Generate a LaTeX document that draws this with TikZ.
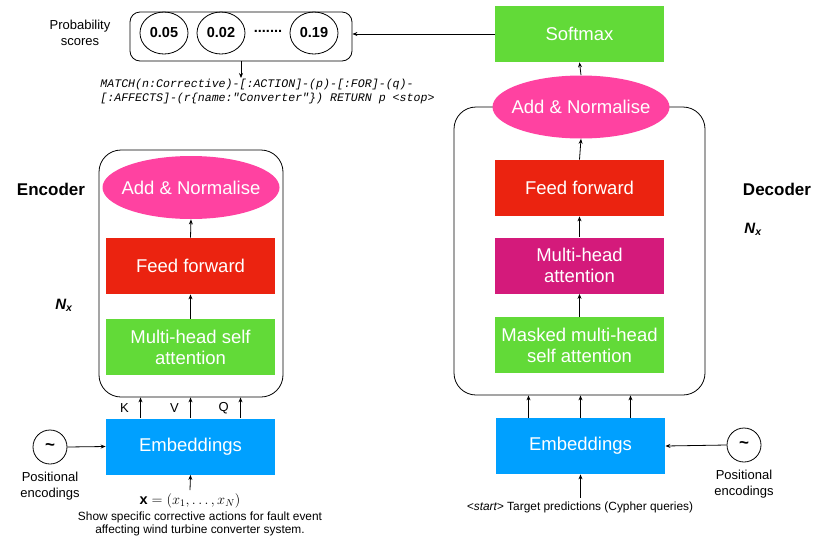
\documentclass[tikz,border=0pt]{standalone}
\usepackage{fontspec}
\setmainfont{Liberation Sans}
\setmonofont{Liberation Mono}
\usetikzlibrary{shapes.geometric,arrows.meta}

\begin{document}
\begin{tikzpicture}[x=1pt,y=-1pt,font=\fontsize{13}{16}\selectfont,line width=0.8pt,
  >={Stealth[length=5pt,width=4pt]},
  bloc/.style={minimum width=169,minimum height=56,inner sep=0,text=white,align=center,font=\fontsize{18.5}{21}\selectfont},
  norme/.style={ellipse,fill=rose,minimum width=177,minimum height=63,inner sep=0,text=white,font=\fontsize{18.5}{21}\selectfont},
  cadre/.style={draw,rounded corners=22,inner sep=0},
  proba/.style={ellipse,draw,minimum width=48,minimum height=42,inner sep=0,font=\bfseries\fontsize{14.5}{17}\selectfont},
  onde/.style={circle,draw,minimum size=34,inner sep=0,font=\bfseries\fontsize{17}{17}\selectfont},
  titre/.style={font=\bfseries\fontsize{17}{20}\selectfont}]
\definecolor{vert}{RGB}{98,218,56}
\definecolor{rouge}{RGB}{235,35,16}
\definecolor{rose}{RGB}{255,66,161}
\definecolor{pourpre}{RGB}{212,26,123}
\definecolor{bleu}{RGB}{0,160,255}
\useasboundingbox (0,0) rectangle (815,539);

% scores en haut
\node[cadre,rounded corners=10,minimum width=222,minimum height=49] (probas) at (241,36.5) {};
\node[proba] (p1) at (164,33) {\makebox[0pt]{0.05}};
\node[proba] (p2) at (221,33) {\makebox[0pt]{0.02}};
\node[font=\bfseries\fontsize{14.5}{17}\selectfont] (points) at (268,31) {.......};
\node[proba] (p3) at (314,33) {\makebox[0pt]{0.19}};
\node[align=center] (problab) at (80,33) {Probability\\scores};
\node[anchor=north west,align=left,inner sep=1pt,font=\ttfamily\itshape\fontsize{11.6}{14}\selectfont] (cypher) at (99,78)
  {MATCH(n:Corrective)-[:ACTION]-(p)-[:FOR]-(q)-\\\relax[:AFFECTS]-(r\{name:"Converter"\}) RETURN p <stop>};

% encodeur
\node[cadre,minimum width=184,minimum height=247] (enccadre) at (191,273.5) {};
\node[norme] (encnorme) at (191,187.5) {\makebox[0pt]{Add \& Normalise}};
\node[bloc,fill=rouge] (encff) at (190.5,266) {Feed forward};
\node[bloc,fill=vert] (encatt) at (190.5,347) {Multi-head self\\attention};
\node[bloc,fill=bleu] (encemb) at (190.5,446.5) {Embeddings};
\node[onde] (encpos) at (50,447) {\textasciitilde};
\node[align=center,anchor=north] (encposlab) at (50,468) {Positional\\encodings};
\node[font=\fontsize{14.5}{17}\selectfont] (entree) at (190,501) {$\mathbf{x}=(x_1,\ldots,x_N)$};
\node[align=center,font=\fontsize{11.9}{13.5}\selectfont] (phrase) at (200,524)
  {Show specific corrective actions for fault event\\affecting wind turbine converter system.};
\node[titre] (enclab) at (51,189) {Encoder};
\node[font=\bfseries\itshape\fontsize{15}{17}\selectfont] (encn) at (64,305) {N\textsubscript{x}};

% decodeur
\node[cadre,minimum width=251,minimum height=288] (deccadre) at (579.5,251) {};
\node[norme] (decnorme) at (581,107) {\makebox[0pt]{Add \& Normalise}};
\node[bloc,fill=vert] (softmax) at (579.5,34) {Softmax};
\node[bloc,fill=rouge] (decff) at (579.5,188) {Feed forward};
\node[bloc,fill=pourpre] (decatt) at (579.5,265.5) {Multi-head\\attention};
\node[bloc,fill=vert] (decmasque) at (579.5,345) {Masked multi-head\\self attention};
\node[bloc,fill=bleu] (decemb) at (580.5,446) {Embeddings};
\node[onde] (decpos) at (744,445) {\textasciitilde};
\node[align=center,anchor=north] (decposlab) at (744,466) {Positional\\encodings};
\node[font=\fontsize{11.9}{14}\selectfont] (cible) at (580,507) {\textit{<start>} Target predictions (Cypher queries)};
\node[titre] (declab) at (777,189) {Decoder};
\node[font=\bfseries\itshape\fontsize{15}{17}\selectfont] (decn) at (753,229) {N\textsubscript{x}};

% fleches
\draw[->] (softmax.west) -- (softmax.west -| probas.east);
\draw[->] (probas.south) -- (cypher.north -| probas.south);
\draw[->] (decnorme.north) -- (softmax.south);
\draw[->] (decff.north) -- (decnorme.south);
\draw[->] (decatt.north) -- (decff.south);
\draw[->] (decmasque.north) -- (decatt.south);
\foreach \dx in {-52,0,50}
  \draw[->] ([xshift=\dx]decemb.north) -- ([xshift=\dx]decemb.north |- deccadre.south);
\draw[->] (cible.north -| decemb.south) -- (decemb.south);
\draw[->] (decpos.west) -- (decemb.east);
\draw[->] (encff.north) -- (encnorme.south);
\draw[->] (encatt.north) -- (encff.south);
\foreach \dx/\lettre in {-50/K,0/V,50/Q}
  \draw[->] ([xshift=\dx]encemb.north) -- ([xshift=\dx]encemb.north |- enccadre.south)
    node[midway,left=8pt] {\lettre};
\draw[->] (encpos.east) -- (encemb.west);
\draw[->] (entree.north) -- (encemb.south);
\end{tikzpicture}
\end{document}
